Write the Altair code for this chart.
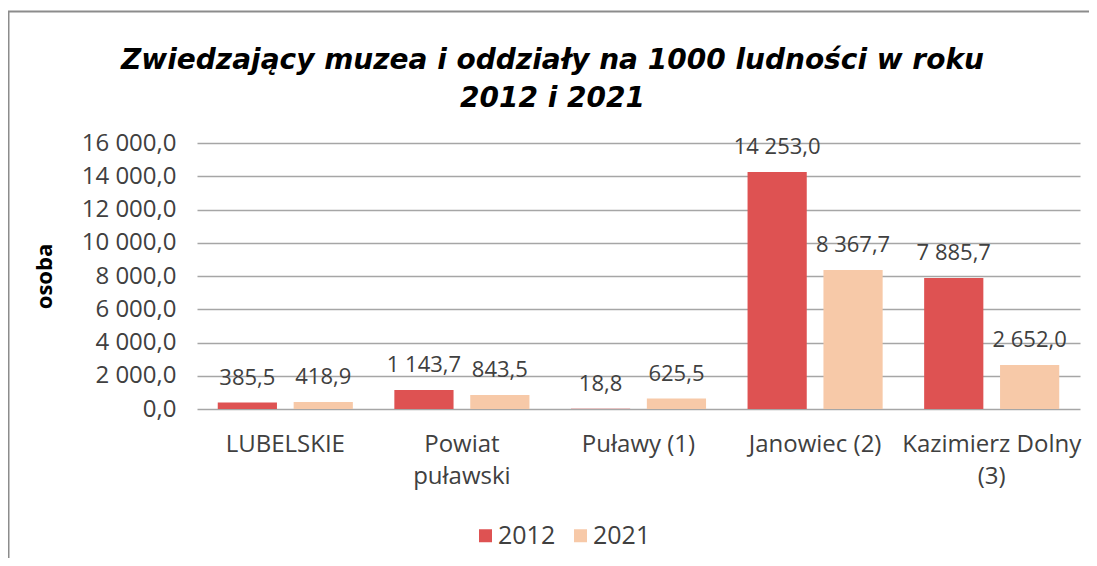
import altair as alt
import pandas as pd

categories = ["LUBELSKIE", "Powiat\npuławski", "Puławy (1)", "Janowiec (2)", "Kazimierz Dolny\n(3)"]
years = ["2012", "2021"]
values_2012 = [385.5, 1143.7, 18.8, 14253.0, 7885.7]
values_2021 = [418.9, 843.5, 625.5, 8367.7, 2652.0]
y_ticks = [0, 2000, 4000, 6000, 8000, 10000, 12000, 14000, 16000]
colors = ["#DE5252", "#F7C9A8"]

title_lines = ["Zwiedzający muzea i oddziały na 1000 ludności  w roku", "2012 i 2021"]
y_title = "osoba"


def fmt(v):
    return f"{v:,.1f}".replace(",", " ").replace(".", ",")


rows = []
for c, a, b in zip(categories, values_2012, values_2021):
    rows.append({"kategoria": c, "rok": years[0], "wartosc": a, "etykieta": fmt(a)})
    rows.append({"kategoria": c, "rok": years[1], "wartosc": b, "etykieta": fmt(b)})
df = pd.DataFrame(rows)

W, H = 883, 266
FONT = "Open Sans"
TXT = "#404040"

x_enc = alt.X(
    "kategoria:N",
    sort=categories,
    title=None,
    scale=alt.Scale(paddingInner=0.235, paddingOuter=0.1175),
    axis=alt.Axis(
        labelExpr="split(datum.label, '\\n')",
        labelAngle=0,
        labelFontSize=24,
        labelFont=FONT,
        labelColor=TXT,
        labelLineHeight=32,
        labelPadding=23,
        ticks=False,
        domain=False,
        grid=False,
    ),
)
xoff_enc = alt.XOffset("rok:N", sort=years, scale=alt.Scale(paddingInner=0.22))
y_enc = alt.Y(
    "wartosc:Q",
    scale=alt.Scale(domain=[0, 16000], nice=False),
    axis=alt.Axis(
        values=y_ticks,
        labelExpr="datum.value == 0 ? '0,0' : format(datum.value / 1000, 'd') + ' 000,0'",
        labelFontSize=24,
        labelFont=FONT,
        labelColor=TXT,
        labelPadding=21,
        labelOverlap=False,
        ticks=False,
        domain=False,
        grid=True,
        gridColor="#A6A6A6",
        gridWidth=1.5,
        title=y_title,
        titleFont=FONT,
        titleFontSize=22,
        titleFontWeight="bold",
        titleColor="#000000",
        titlePadding=25,
    ),
)

base = alt.Chart(df).encode(x=x_enc, xOffset=xoff_enc, y=y_enc)

bars = base.mark_bar().encode(
    color=alt.Color(
        "rok:N",
        scale=alt.Scale(domain=years, range=colors),
        legend=alt.Legend(
            title=None,
            orient="none",
            direction="horizontal",
            legendX=276,
            legendY=380,
            symbolType="square",
            symbolSize=169,
            symbolStrokeWidth=0,
            labelFont=FONT,
            labelFontSize=25,
            labelColor=TXT,
            labelOffset=0,
            columnPadding=12,
            padding=0,
        ),
    ),
)

labels = base.mark_text(
    dy=-25, fontSize=22, font=FONT, color=TXT, baseline="middle"
).encode(text="etykieta:N")

frame = alt.Chart(pd.DataFrame({"f": [0]})).mark_rect(
    fill=None, stroke="#8C8C8C", strokeWidth=2
).encode(
    x=alt.value(-188.5),
    y=alt.value(-131.5),
    x2=alt.value(W + 60),
    y2=alt.value(H + 200),
)

chart = alt.layer(frame, bars, labels).properties(
    width=W,
    height=H,
    autosize=alt.AutoSizeParams(type="none"),
    padding={"left": 189, "top": 135, "right": 9, "bottom": 149},
    title=alt.Title(
        title_lines,
        font="DejaVu Sans",
        fontSize=28,
        fontWeight="bold",
        fontStyle="italic",
        color="#000000",
        anchor="middle",
        frame="group",
        dx=-86,
        dy=4,
        offset=-98,
        lineHeight=38,
    ),
).configure_view(stroke=None)

chart.save("out.html", embed_options={"renderer": "svg", "actions": False})
